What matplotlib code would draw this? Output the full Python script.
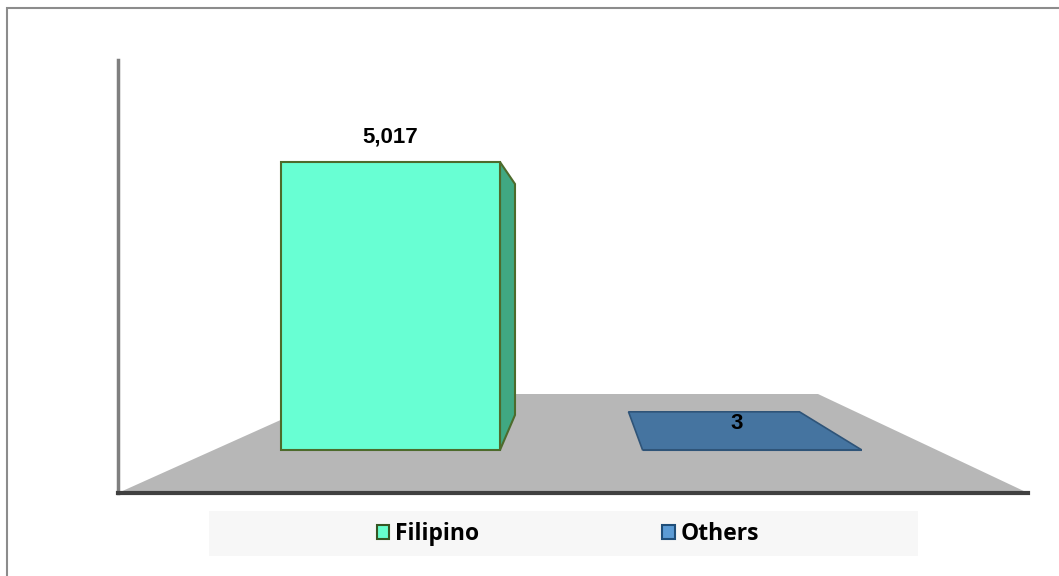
import matplotlib
matplotlib.use("Agg")
import matplotlib.pyplot as plt
from matplotlib.patches import Polygon, Rectangle, Patch

categories = ["Filipino", "Others"]
values = [5017, 3]
labels = ["5,017", "3"]

front_colors = ["#68ffd3", "#4574a0"]
side_colors = ["#40a882", "#3a6690"]
edge_colors = ["#4d6b2c", "#2f5478"]
legend_colors = ["#66ffcc", "#5b9bd5"]
legend_edges = ["#375623", "#1f4e79"]

W, H = 1059, 576
fig = plt.figure(figsize=(W / 100, H / 100), dpi=100)

# outer frame (only top and left edges fall inside the image)
fig.patches.append(Rectangle((7 / W, -0.2), 1.2, (H - 8) / H + 0.2, transform=fig.transFigure,
                             fill=False, edgecolor="#8c8c8c", linewidth=1.5))

# plot region in pixels
x0, x1, y_top, y_bot = 118, 1028, 60, 493
ax = fig.add_axes([x0 / W, (H - y_bot) / H, (x1 - x0) / W, (y_bot - y_top) / H])
ax.set_facecolor("none")

# scales: bar base at pixel 450, 5017 at pixel 162
base_px = 450
ppu_y = 288 / 5017
ppu_x = 361.5
ax.set_ylim(-(y_bot - base_px) / ppu_y, (base_px - y_top) / ppu_y)
ax.set_xlim(-(390.5 - x0) / ppu_x, (x1 - 390.5) / ppu_x)

def dx(px):
    return px / ppu_x

def dy(px):
    return px / ppu_y

ylo = ax.get_ylim()[0]
xlo, xhi = ax.get_xlim()

# floor
floor = Polygon([(xlo, ylo), (xhi, ylo), (1 + dx(66), dy(56)), (dx(-52), dy(56))],
                closed=True, facecolor="#b7b7b7", edgecolor="none", zorder=1)
ax.add_patch(floor)

xs = list(range(len(categories)))
width = 219 / ppu_x
bars = ax.bar(xs, values, width=width, color=front_colors, edgecolor=edge_colors,
              linewidth=1.5, zorder=3)

label_font = {"family": "Liberation Sans", "weight": "bold", "size": 16}

# Filipino: side face
b = bars[0]
r = b.get_x() + b.get_width()
top = b.get_height()
ax.add_patch(Polygon([(r, top), (r + dx(15), top - dy(22)), (r + dx(15), dy(35)), (r, 0)],
                     closed=True, facecolor=side_colors[0], edgecolor=edge_colors[0],
                     linewidth=1.5, zorder=2))
ax.text(b.get_x() + b.get_width() / 2, top + dy(15), labels[0], ha="center", va="bottom",
        fontdict=label_font, zorder=5)

# Others: flat top face
b = bars[1]
l = b.get_x()
r = l + b.get_width()
top = b.get_height()
ax.add_patch(Polygon([(l, top), (r, top), (r - dx(62), top + dy(38)), (l - dx(14), top + dy(38))],
                     closed=True, facecolor=front_colors[1], edgecolor=edge_colors[1],
                     linewidth=1.2, zorder=4))
ax.text((l + r) / 2 - dx(15), top + dy(26), labels[1], ha="center", va="center",
        fontdict=label_font, zorder=5)

for s in ["top", "right"]:
    ax.spines[s].set_visible(False)
ax.spines["left"].set_color("#7f7f7f")
ax.spines["left"].set_linewidth(2.5)
ax.spines["bottom"].set_color("#404040")
ax.spines["bottom"].set_linewidth(3)
ax.spines["bottom"].set_zorder(6)
ax.set_xticks([])
ax.set_yticks([])

# legend background
fig.patches.append(Rectangle((209 / W, (H - 556) / H), (918 - 209) / W, 45 / H,
                             transform=fig.transFigure, facecolor="#f7f7f7",
                             edgecolor="none", zorder=0))
handles = [Patch(facecolor=c, edgecolor=e, linewidth=1.5) for c, e in zip(legend_colors, legend_edges)]
fig.legend(handles, categories, loc="center", bbox_to_anchor=(568 / W, (H - 534) / H),
           ncol=2, frameon=False, handlelength=0.55, handleheight=0.6, handletextpad=0.25,
           columnspacing=8.0, prop={"family": "Open Sans", "weight": "bold", "size": 16.5})

fig.savefig("out.png", dpi=100)
